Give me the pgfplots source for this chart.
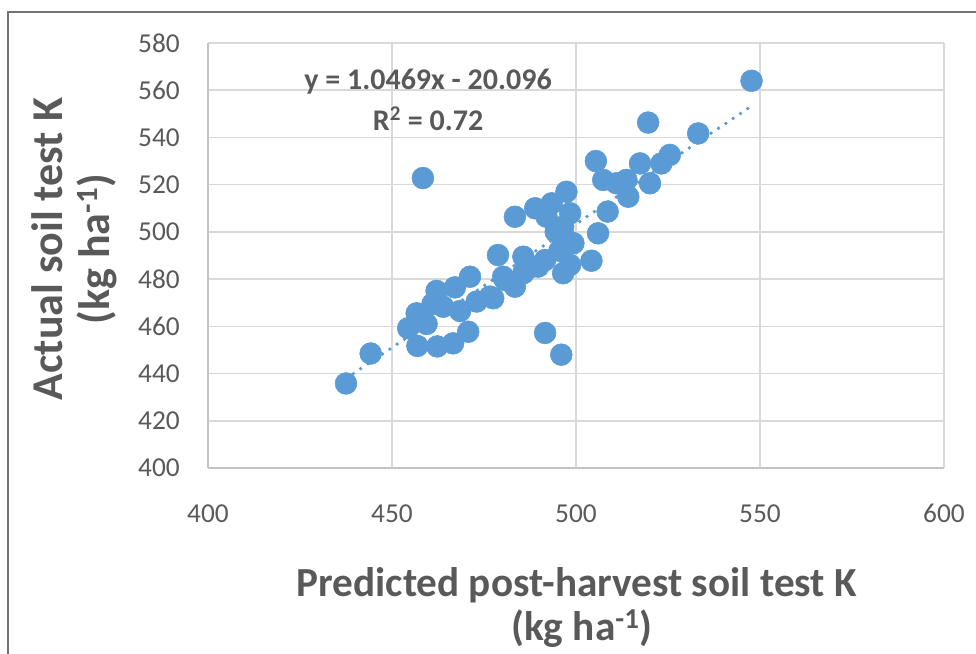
\documentclass[border=0pt]{standalone}
\usepackage{fontspec}
\setmainfont{Carlito}
\usepackage{graphicx}
\usepackage{pgfplots}
\pgfplotsset{compat=1.18}
\definecolor{txtgrey}{HTML}{595959}
\definecolor{gridgrey}{HTML}{D9D9D9}
\definecolor{dotblue}{HTML}{5B9BD5}

\pgfplotstableread{
x y
437.5 435.8
444.2 448.5
454.4 459.2
456.7 465.5
456.9 451.7
458.4 522.8
459.4 461.0
461.0 469.5
462.1 475.0
462.3 451.5
463.9 468.3
466.6 452.8
467.1 476.5
468.5 466.5
470.7 457.7
471.2 481.0
473.0 470.5
476.6 472.6
477.5 471.9
478.8 490.2
480.2 481.0
480.7 479.6
483.0 478.2
483.4 476.8
483.4 506.4
485.7 489.5
485.7 482.5
487.5 485.0
488.9 510.0
489.7 485.3
491.6 488.1
491.6 457.2
492.0 506.4
493.4 512.1
494.5 500.0
495.5 492.0
496.0 448.0
496.5 482.5
496.5 502.2
497.4 517.0
497.5 496.6
498.4 486.0
498.4 507.9
499.3 495.2
504.2 487.8
505.4 530.0
506.0 499.4
507.4 522.0
508.6 508.6
511.0 520.6
513.7 522.0
514.2 514.9
517.4 529.0
519.6 546.3
520.1 520.6
523.2 529.0
525.5 532.6
533.2 541.7
547.7 564.0
}\soildata

\begin{document}
\begin{tikzpicture}
\useasboundingbox (-156pt,-139.5pt) rectangle (576pt,351pt);
% chart frame (cut off at right and bottom)
\draw[color=black!55, line width=1.1pt] (-150pt,-139.5pt) -- (-150pt,342pt) -- (576pt,342pt);
\begin{axis}[
    at={(0,0)}, anchor=south west,
    scale only axis,
    width=552pt, height=318.75pt,
    xmin=400, xmax=600, ymin=400, ymax=580,
    xtick={400,450,...,600},
    ytick={400,420,...,580},
    grid=major,
    major grid style={color=gridgrey, line width=1.1pt},
    axis line style={color=gridgrey!90!black, line width=1.1pt},
    axis lines=left,
    axis line style={-},
    major tick length=0pt,
    /pgf/number format/assume math mode=true,
    tick label style={font=\fontsize{20.5}{24}\selectfont, text=txtgrey},
    yticklabel style={anchor=east, inner sep=0pt, xshift=-21pt},
    xticklabel style={anchor=north, inner sep=0pt, yshift=-27pt},
    clip=false,
]
\addplot[only marks, mark=*, mark size=8.2pt,
    mark options={draw=dotblue, fill=dotblue}] table[x=x, y=y] {\soildata};
% linear trendline y = 1.0469x - 20.096
\addplot[color=dotblue, line width=2.8pt, line cap=round,
    dash pattern=on 0pt off 6.6pt] coordinates {(437.5,437.9) (547.7,553.3)};

\node[font=\bfseries\fontsize{22.5}{26}\selectfont, text=txtgrey, align=center]
    at (axis cs:459.8,556) {y = 1.0469x - 20.096\\[5pt]R\textsuperscript{2} = 0.72};

% axis titles
\node[anchor=base, yshift=-96pt, text=txtgrey, font=\bfseries\fontsize{31}{36}\selectfont]
    at (axis description cs:0.501,0) {\resizebox{420pt}{\height}{Predicted post-harvest soil test K}};
\node[anchor=base, yshift=-129.5pt, text=txtgrey, font=\bfseries\fontsize{31}{36}\selectfont]
    at (axis description cs:0.508,0) {(kg ha\textsuperscript{-1})};
\node[anchor=base, rotate=90, text=txtgrey, font=\bfseries\fontsize{33}{38}\selectfont]
    at ([xshift=-108.75pt]axis description cs:0,0.515) {Actual soil test K};
\node[anchor=base, rotate=90, text=txtgrey, font=\bfseries\fontsize{33}{38}\selectfont]
    at ([xshift=-73.5pt]axis description cs:0,0.515) {(kg ha\textsuperscript{-1})};
\end{axis}
\end{tikzpicture}
\end{document}
